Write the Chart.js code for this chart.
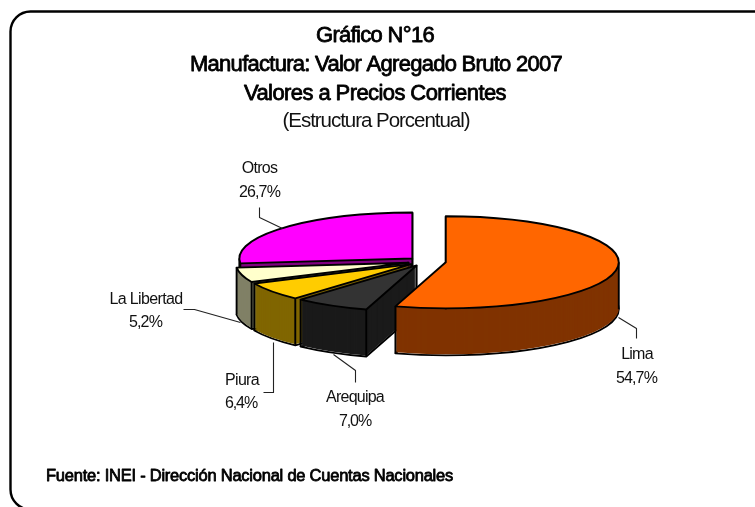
<!DOCTYPE html>
<html><head><meta charset="utf-8">
<script src="https://cdn.jsdelivr.net/npm/chart.js@4"></script>
<style>html,body{margin:0;padding:0;background:#fff;overflow:hidden}canvas{display:block}</style>
</head><body><div style="width:755px;height:507px"><canvas id="c" width="755" height="507"></canvas></div>
<script>
const categories = ["Lima","Arequipa","Piura","La Libertad","Otros"];
const values = [54.7,7.0,6.4,5.2,26.7];
const valueLabels = ["54,7%","7,0%","6,4%","5,2%","26,7%"];
const faceColors = ["#FF6600","#333333","#FFCC00","#FFFFCC","#FF00FF"];
const sideColors = ["#803300","#1A1A1A","#806600","#808066","#800080"];
const explode = [21,17,17,17,17];
const titleLines = ["Gráfico N°16","Manufactura: Valor Agregado Bruto 2007","Valores a Precios Corrientes"];
const subtitleText = "(Estructura Porcentual)";
const sourceText = "Fuente: INEI - Dirección Nacional de Cuentas Nacionales";

// projection of the flat pie
const CX=425, CY=261.5, K=0.266, DEPTH=47, RADIUS=173;
// text layout: [text, centre x, middle y, target width, size, emboldened]
const textLayout=[
 [titleLines[0],375,35.5,118,22,true],
 [titleLines[1],376,64.5,372,22,true],
 [titleLines[2],375,93.5,262,22,true],
 [subtitleText,376,121.5,187,20.5,false],
 [sourceText,249.5,476,407,16.5,true],
 [categories[0],637,355,31.5,16,false],[valueLabels[0],636.5,379,41,16,false],
 [categories[1],355,398,58,16,false],[valueLabels[1],355,422,32,16,false],
 [categories[2],242,381,34,16,false],[valueLabels[2],241,404,32,16,false],
 [categories[3],146,300,73,16,false],[valueLabels[3],145.5,323,33,16,false],
 [categories[4],259.5,169,35.5,16,false],[valueLabels[4],259.5,193,41,16,false]
];
const leaders=[[[618,317],[636,328],[636,338]],[[333,354],[355,370],[355,382]],[[273,342],[273,392],[263,392]],[[183,309],[194,309],[240,322]],[[259,207],[259,217],[282,228]]];

function fitText(ctx,t,cx,cy,w,size,bold){
  ctx.save();
  ctx.font=size+'px "Liberation Sans"';
  ctx.textAlign='left';ctx.textBaseline='middle';
  ctx.letterSpacing='0px';
  const natural=ctx.measureText(t).width;
  ctx.letterSpacing=((w-natural)/t.length).toFixed(3)+'px';
  ctx.fillStyle=bold?'#000':'#111';
  const x=cx-w/2;
  ctx.fillText(t,x,cy);
  if(bold){ctx.strokeStyle='#000';ctx.lineWidth=0.8;ctx.lineJoin='round';ctx.strokeText(t,x,cy);}
  ctx.restore();
}

const pie3d={id:'pie3d',
 beforeDraw(chart){
  const ctx=chart.ctx;
  ctx.save();
  ctx.strokeStyle='#000';ctx.lineWidth=2.4;
  ctx.beginPath();ctx.roundRect(10.5,11.5,800,498,20);ctx.stroke();
  ctx.restore();
 },
 beforeDatasetsDraw(chart){
  const ctx=chart.ctx, arcs=chart.getDatasetMeta(0).data;
  const order=[4,3,2,1,0];
  const place=(a,i,d)=>{
    const mid=(a.startAngle+a.endAngle)/2;
    ctx.translate(CX+explode[i]*Math.cos(mid),CY+explode[i]*Math.sin(mid)*K+d);
    ctx.scale(1,K);
    ctx.translate(-a.x,-a.y);
  };
  const outline=(a,i,d,w)=>{
    ctx.save();place(a,i,d);
    ctx.beginPath();
    ctx.moveTo(a.x,a.y);
    ctx.arc(a.x,a.y,a.outerRadius,a.startAngle,a.endAngle);
    ctx.closePath();
    ctx.restore();
    ctx.lineWidth=w;ctx.strokeStyle='#000';ctx.lineJoin='round';ctx.stroke();
  };
  const paint=(a,i,d,c)=>{
    const o=a.options;
    ctx.save();place(a,i,d);
    a.options={backgroundColor:c,borderColor:c,borderWidth:0,offset:0,spacing:0,borderRadius:0,circular:true,borderAlign:'center'};
    a.draw(ctx);
    a.options=o;
    ctx.restore();
  };
  const vertical=(a,i,ang)=>{
    const mid=(a.startAngle+a.endAngle)/2;
    const x=CX+explode[i]*Math.cos(mid)+(ang===null?0:a.outerRadius*Math.cos(ang));
    const y=CY+explode[i]*Math.sin(mid)*K+(ang===null?0:a.outerRadius*Math.sin(ang)*K);
    ctx.beginPath();ctx.moveTo(x,y);ctx.lineTo(x,y+DEPTH);ctx.lineWidth=1.9;ctx.strokeStyle='#000';ctx.stroke();
  };
  for(const i of order){
    const a=arcs[i];
    outline(a,i,DEPTH,1.9);
    for(let d=DEPTH-1;d>=0;d--) paint(a,i,d,sideColors[i]);
    const angs=[null,a.startAngle,a.endAngle];
    const TAU=Math.PI*2;
    for(const s of [0,Math.PI]){
      for(const t of [s,s+TAU,s-TAU]) if(t>a.startAngle&&t<a.endAngle) angs.push(t);
    }
    angs.forEach(g=>vertical(a,i,g));
    paint(a,i,0,faceColors[i]);
    outline(a,i,0,1.9);
  }
  return false;
 },
 afterDraw(chart){
  const ctx=chart.ctx;
  ctx.save();
  ctx.strokeStyle='#222';ctx.lineWidth=1.1;
  leaders.forEach(l=>{ctx.beginPath();l.forEach((p,j)=>j?ctx.lineTo(p[0]+.5,p[1]+.5):ctx.moveTo(p[0]+.5,p[1]+.5));ctx.stroke();});
  ctx.restore();
  textLayout.forEach(t=>fitText(ctx,t[0],t[1],t[2],t[3],t[4],t[5]));
 }
};
new Chart(document.getElementById('c'),{
 type:'pie',
 data:{labels:categories,datasets:[{data:values,backgroundColor:faceColors,radius:RADIUS,borderWidth:0}]},
 options:{responsive:false,animation:false,layout:{padding:0},
  plugins:{legend:{display:false},tooltip:{enabled:false},title:{display:false},subtitle:{display:false}}},
 plugins:[pie3d]
});
</script></body></html>
